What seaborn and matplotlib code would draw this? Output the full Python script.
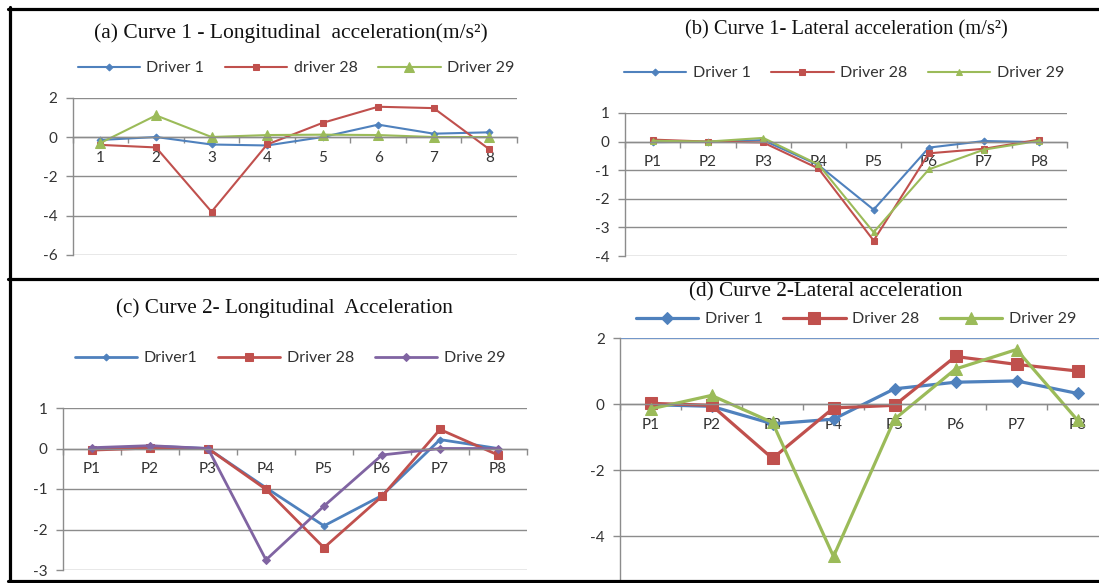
import numpy as np
import pandas as pd
import matplotlib
matplotlib.use('Agg')
import matplotlib.pyplot as plt
from matplotlib.lines import Line2D
import seaborn as sns

# ---- data ----
cats_a = ['1', '2', '3', '4', '5', '6', '7', '8']
cats_p = ['P1', 'P2', 'P3', 'P4', 'P5', 'P6', 'P7', 'P8']

a_d1 = [-0.15, 0.0, -0.38, -0.43, 0.0, 0.63, 0.17, 0.24]
a_d28 = [-0.4, -0.53, -3.8, -0.38, 0.72, 1.54, 1.47, -0.62]
a_d29 = [-0.3, 1.1, 0.0, 0.1, 0.12, 0.1, 0.0, 0.0]

b_d1 = [-0.02, 0.0, 0.05, -0.82, -2.38, -0.21, 0.02, -0.02]
b_d28 = [0.07, 0.0, -0.03, -0.94, -3.46, -0.41, -0.25, 0.07]
b_d29 = [0.03, 0.0, 0.13, -0.8, -3.17, -0.97, -0.28, 0.03]

c_d1 = [-0.02, 0.06, 0.0, -0.97, -1.91, -1.16, 0.22, 0.0]
c_d28 = [-0.04, 0.01, 0.0, -1.01, -2.45, -1.18, 0.47, -0.16]
c_d29 = [0.02, 0.07, 0.0, -2.75, -1.42, -0.16, 0.0, 0.0]

d_d1 = [-0.02, -0.07, -0.6, -0.46, 0.46, 0.66, 0.7, 0.32]
d_d28 = [0.02, -0.04, -1.65, -0.12, -0.04, 1.44, 1.2, 1.0]
d_d29 = [-0.15, 0.26, -0.56, -4.62, -0.46, 1.06, 1.65, -0.49]

BLUE, RED, GREEN, PURPLE = '#4F81BD', '#C0504D', '#9BBB59', '#8064A2'

sns.set_style('white')
plt.rcParams['font.family'] = ['Lato', 'DejaVu Sans']

W, H = 1099, 583
fig = plt.figure(figsize=(W / 100, H / 100), dpi=100)


def px_box(l, t, r, b):
    return [l / W, 1 - b / H, (r - l) / W, (b - t) / H]


def panel(box, cats, series, ylim, yticks, title, tpos, tsize, lpos, lsize=11.5, hl=3.9):
    ax = fig.add_axes(px_box(*box))
    pos = np.arange(1, len(cats) + 1)
    for name, vals, col, mk, ms, lw in series:
        df = pd.DataFrame({'pos': pos, 'val': vals})
        sns.lineplot(data=df, x='pos', y='val', ax=ax, color=col, marker=mk,
                     markersize=ms, markeredgecolor=col, linewidth=lw,
                     label=name, legend=False)
    ax.set_xlim(0.5, len(cats) + 0.5)
    ax.set_ylim(*ylim)
    ax.set_yticks(yticks)
    ax.set_yticklabels([str(t) for t in yticks])
    ax.set_xticks(pos)
    ax.set_xticklabels(cats)
    ax.set_xticks(np.arange(0.5, len(cats) + 1), minor=True)
    ax.set_xlabel('')
    ax.set_ylabel('')
    for t in yticks:
        ax.axhline(t, color='#8c8c8c', lw=1, zorder=0)
    ax.spines['bottom'].set_position(('data', 0))
    for s in ['top', 'right']:
        ax.spines[s].set_visible(False)
    for s in ['left', 'bottom']:
        ax.spines[s].set_color('#8c8c8c')
        ax.spines[s].set_linewidth(1)
    ax.tick_params(axis='y', direction='out', length=5, width=1, color='#8c8c8c',
                   labelsize=11, labelcolor='#333333', left=True, pad=6)
    ax.tick_params(axis='x', which='major', length=0, pad=10, labelsize=11,
                   labelcolor='#333333')
    ax.tick_params(axis='x', which='minor', direction='out', length=4, width=1,
                   color='#8c8c8c', bottom=True)
    fig.text(tpos[0] / W, 1 - tpos[1] / H, title, ha='center', va='center',
             fontsize=tsize, family='Liberation Serif', color='#111111')
    handles = ax.get_lines()[:len(series)]
    ax.legend(handles, [s[0] for s in series], loc='center',
              bbox_to_anchor=(lpos[0] / W, 1 - lpos[1] / H),
              bbox_transform=fig.transFigure, ncol=3, frameon=False,
              handlelength=hl, handletextpad=0.4, columnspacing=1.3,
              numpoints=1, prop={'size': lsize}, labelcolor='#333333')
    return ax


panel((72.7, 97.7, 517, 255), cats_a,
      [('Driver 1', a_d1, BLUE, 'D', 3.5, 1.5),
       ('driver 28', a_d28, RED, 's', 5, 1.5),
       ('Driver 29', a_d29, GREEN, '^', 7, 1.5)],
      (-6, 2), [-6, -4, -2, 0, 2],
      '(a) Curve 1 - Longitudinal  acceleration(m/s²)', (291, 33), 15.5, (296, 68))

panel((625, 113, 1067, 256), cats_p,
      [('Driver 1', b_d1, BLUE, 'D', 3.5, 1.5),
       ('Driver 28', b_d28, RED, 's', 5, 1.5),
       ('Driver 29', b_d29, GREEN, '^', 5, 1.5)],
      (-4, 1), [-4, -3, -2, -1, 0, 1],
      '(b) Curve 1- Lateral acceleration (m/s²)', (846, 30), 14.8, (844, 73))

panel((63, 408, 527, 570), cats_p,
      [('Driver1', c_d1, BLUE, 'D', 3.5, 2),
       ('Driver 28', c_d28, RED, 's', 6, 2),
       ('Drive 29', c_d29, PURPLE, 'D', 4.5, 2)],
      (-3, 1), [-3, -2, -1, 0, 1],
      '(c) Curve 2- Longitudinal  Acceleration', (284, 308), 15.3, (290, 358))

axd = panel((620, 338, 1108, 602), cats_p,
            [('Driver 1', d_d1, BLUE, 'D', 6.5, 2.3),
             ('Driver 28', d_d28, RED, 's', 8, 2.3),
             ('Driver 29', d_d29, GREEN, '^', 8.5, 2.3)],
            (-6, 2), [-4, -2, 0, 2],
            '(d) Curve 2-Lateral acceleration', (826, 292), 15.3, (856, 319))
axd.axhline(2, color='#6f9ad6', lw=1.2, zorder=1)

# black frame lines of the composite image
for (x0, y0, x1, y1) in [(9.5, 7, 9.5, 581), (8, 8.5, W, 8.5),
                         (8, 279, W, 279), (8, 580.5, W, 580.5)]:
    fig.add_artist(Line2D([x0 / W, x1 / W], [1 - y0 / H, 1 - y1 / H],
                          transform=fig.transFigure, color='black', lw=2.3))

fig.savefig('out.png', dpi=100)
